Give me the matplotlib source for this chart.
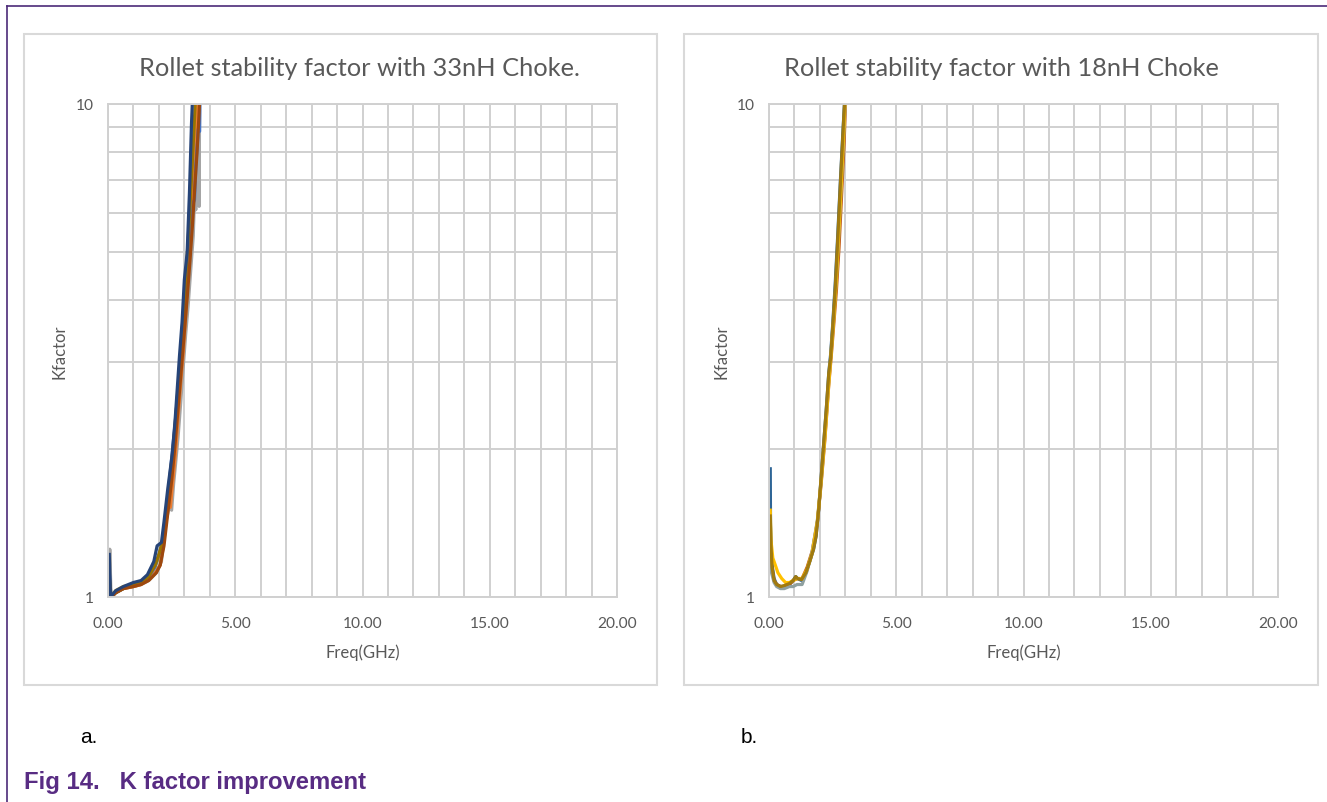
import matplotlib
matplotlib.use("Agg")
import matplotlib.pyplot as plt
from matplotlib.lines import Line2D
from matplotlib.patches import Rectangle
from matplotlib.ticker import FixedLocator, NullFormatter

# ---------------- data ----------------
titles = ["Rollet stability factor with 33nH Choke.", "Rollet stability factor with 18nH Choke"]
x_label = "Freq(GHz)"
y_label = "Kfactor"
x_ticks = [0, 5, 10, 15, 20]
x_tick_labels = ["0.00", "5.00", "10.00", "15.00", "20.00"]
y_ticks = [1, 10]
y_tick_labels = ["1", "10"]
panel_tags = ["a.", "b."]
caption = "Fig 14.   K factor improvement"

# panel a (33nH choke)
a_gray_f = [0.05, 0.07, 0.12, 0.30, 0.60, 1.00, 1.30, 1.60, 1.90, 2.10, 2.25, 2.40, 2.50, 2.58, 2.65, 2.75, 2.85, 2.95, 3.05, 3.15, 3.25, 3.35, 3.40, 3.45, 3.50, 3.53, 3.56, 3.58, 3.60]
a_gray_k = [1.00, 1.25, 1.00, 1.02, 1.04, 1.05, 1.06, 1.08, 1.12, 1.18, 1.40, 1.52, 1.50, 1.70, 1.85, 2.10, 2.45, 2.90, 3.40, 3.90, 4.60, 5.40, 6.50, 6.10, 8.50, 10.5, 9.00, 6.20, 10.5]
a_yellow_f = [0.05, 0.12, 0.30, 0.60, 1.00, 1.30, 1.60, 1.85, 2.00, 2.15, 2.30, 2.45, 2.60, 2.72, 2.85, 2.95, 3.05, 3.15, 3.25, 3.35, 3.45, 3.52]
a_yellow_k = [1.06, 1.00, 1.03, 1.05, 1.06, 1.07, 1.10, 1.15, 1.21, 1.28, 1.48, 1.75, 2.10, 2.45, 2.95, 3.45, 4.05, 4.80, 5.70, 6.90, 8.60, 10.8]
a_orange_f = [0.05, 0.12, 0.30, 0.60, 1.00, 1.30, 1.60, 1.90, 2.05, 2.20, 2.30, 2.38, 2.45, 2.55, 2.65, 2.75, 2.85, 2.95, 3.05, 3.12, 3.20, 3.30, 3.40, 3.47, 3.52]
a_orange_k = [1.08, 1.00, 1.02, 1.04, 1.05, 1.06, 1.09, 1.13, 1.16, 1.30, 1.45, 1.55, 1.52, 1.72, 1.95, 2.30, 2.70, 3.10, 3.70, 4.30, 5.10, 6.10, 7.60, 9.20, 10.8]
a_blue_f = [0.05, 0.12, 0.30, 0.60, 1.00, 1.30, 1.60, 1.85, 2.00, 2.15, 2.30, 2.45, 2.60, 2.72, 2.85, 2.95, 3.05, 3.15, 3.25, 3.35, 3.40, 3.45, 3.55, 3.60, 3.62]
a_blue_k = [1.12, 1.00, 1.02, 1.04, 1.06, 1.07, 1.10, 1.15, 1.22, 1.30, 1.50, 1.80, 2.15, 2.50, 3.00, 3.50, 4.10, 4.80, 5.50, 6.30, 6.40, 7.50, 8.90, 8.80, 11.0]
a_gold_f = [0.05, 0.12, 0.30, 0.60, 1.00, 1.30, 1.60, 1.85, 2.00, 2.15, 2.30, 2.42, 2.58, 2.70, 2.80, 2.90, 3.00, 3.10, 3.20, 3.30, 3.40, 3.48]
a_gold_k = [1.10, 1.00, 1.02, 1.04, 1.06, 1.07, 1.10, 1.16, 1.22, 1.30, 1.50, 1.72, 2.05, 2.45, 2.85, 3.40, 4.00, 4.80, 5.90, 7.40, 9.40, 11.5]
a_darkorange_f = [0.05, 0.12, 0.30, 0.60, 1.00, 1.30, 1.60, 1.90, 2.05, 2.20, 2.35, 2.50, 2.62, 2.75, 2.88, 3.00, 3.12, 3.22, 3.32, 3.42, 3.50, 3.58, 3.63]
a_darkorange_k = [1.05, 1.00, 1.02, 1.04, 1.05, 1.06, 1.08, 1.12, 1.16, 1.27, 1.48, 1.72, 2.00, 2.40, 2.90, 3.45, 4.10, 4.80, 5.70, 6.90, 8.00, 9.60, 11.0]
a_darkblue_f = [0.05, 0.10, 0.30, 0.60, 1.00, 1.30, 1.55, 1.80, 1.93, 2.10, 2.20, 2.35, 2.52, 2.63, 2.72, 2.81, 2.91, 3.00, 3.11, 3.20, 3.28, 3.36]
a_darkblue_k = [1.22, 1.00, 1.03, 1.05, 1.07, 1.08, 1.11, 1.18, 1.27, 1.29, 1.42, 1.66, 1.94, 2.26, 2.64, 3.09, 3.61, 4.40, 5.00, 6.60, 9.10, 11.5]

# panel b (18nH choke)
b_blue_f = [0.05, 0.06, 0.10, 0.20, 0.30, 0.45, 0.60, 0.80, 0.95, 1.05, 1.12, 1.28, 1.45, 1.60, 1.75, 1.85, 1.95, 2.05, 2.15, 2.25, 2.35, 2.42, 2.50, 2.60, 2.70, 2.80, 2.90, 3.00]
b_blue_k = [1.82, 1.40, 1.18, 1.09, 1.06, 1.05, 1.05, 1.06, 1.08, 1.10, 1.09, 1.08, 1.12, 1.18, 1.25, 1.33, 1.50, 1.75, 2.05, 2.40, 2.85, 3.10, 3.55, 4.30, 5.40, 6.90, 8.70, 10.8]
b_orange_f = [0.05, 0.10, 0.20, 0.30, 0.45, 0.60, 0.80, 0.95, 1.10, 1.30, 1.50, 1.70, 1.90, 2.05, 2.20, 2.35, 2.45, 2.55, 2.65, 2.75, 2.85, 2.95, 3.02]
b_orange_k = [1.35, 1.15, 1.08, 1.06, 1.05, 1.05, 1.06, 1.08, 1.09, 1.09, 1.15, 1.24, 1.42, 1.70, 2.10, 2.70, 3.10, 3.60, 4.20, 5.10, 6.50, 8.30, 10.5]
b_gray_f = [0.05, 0.10, 0.20, 0.30, 0.45, 0.60, 0.80, 0.95, 1.10, 1.30, 1.50, 1.70, 1.90, 2.05, 2.20, 2.35, 2.45, 2.55, 2.65, 2.75, 2.85, 2.95, 3.00]
b_gray_k = [1.30, 1.12, 1.07, 1.05, 1.04, 1.04, 1.05, 1.05, 1.06, 1.06, 1.13, 1.24, 1.43, 1.72, 2.15, 2.75, 3.20, 3.75, 4.45, 5.50, 7.00, 8.90, 10.2]
b_yellow_f = [0.05, 0.08, 0.15, 0.25, 0.35, 0.50, 0.65, 0.80, 0.95, 1.10, 1.30, 1.50, 1.70, 1.90, 2.05, 2.20, 2.35, 2.45, 2.55, 2.65, 2.75, 2.85, 2.95, 3.00]
b_yellow_k = [1.50, 1.30, 1.20, 1.16, 1.12, 1.09, 1.07, 1.07, 1.08, 1.09, 1.09, 1.14, 1.23, 1.42, 1.72, 2.12, 2.72, 3.15, 3.70, 4.45, 5.60, 7.10, 9.10, 10.5]
b_gold_f = [0.05, 0.07, 0.12, 0.20, 0.30, 0.45, 0.60, 0.80, 0.95, 1.05, 1.12, 1.28, 1.45, 1.60, 1.75, 1.85, 1.95, 2.05, 2.15, 2.25, 2.35, 2.42, 2.50, 2.60, 2.70, 2.80, 2.90, 3.00]
b_gold_k = [1.46, 1.30, 1.15, 1.08, 1.06, 1.05, 1.055, 1.065, 1.08, 1.10, 1.09, 1.085, 1.12, 1.18, 1.25, 1.33, 1.50, 1.75, 2.05, 2.40, 2.85, 3.05, 3.50, 4.20, 5.30, 6.80, 8.60, 10.8]

panel_a = [
    (a_gray_f, a_gray_k, "#a5a5a5"),
    (a_yellow_f, a_yellow_k, "#ffc000"),
    (a_orange_f, a_orange_k, "#ed7d31"),
    (a_blue_f, a_blue_k, "#4472c4"),
    (a_gold_f, a_gold_k, "#997300"),
    (a_darkorange_f, a_darkorange_k, "#9e480e"),
    (a_darkblue_f, a_darkblue_k, "#264478"),
]
panel_b = [
    (b_blue_f, b_blue_k, "#2e6596"),
    (b_orange_f, b_orange_k, "#c55a11"),
    (b_gray_f, b_gray_k, "#8fa0a0"),
    (b_yellow_f, b_yellow_k, "#ffc000"),
    (b_gold_f, b_gold_k, "#a07a10"),
]

# ---------------- figure ----------------
W, H = 1327, 803
fig = plt.figure(figsize=(W / 100, H / 100), dpi=100)
fig.patch.set_facecolor("white")

def fx(px):
    return px / W

def fy(py):
    return 1 - py / H

TXT = "#595959"
GRID = "#d0d0d0"
FONT = "Lato"

# page frame lines (purple)
frame = "#4b2a78"
fig.add_artist(Line2D([fx(7), fx(7)], [0, fy(7)], color=frame, lw=1.2, transform=fig.transFigure))
fig.add_artist(Line2D([fx(7), 1], [fy(7), fy(7)], color=frame, lw=1.2, transform=fig.transFigure))

# chart boxes
for (x0, y0, x1, y1) in [(24, 35, 657, 686), (684, 35, 1318, 686)]:
    fig.add_artist(Rectangle((fx(x0), fy(y1)), fx(x1 - x0), (y1 - y0) / H, fill=False,
                             edgecolor="#d9d9d9", lw=1.5, transform=fig.transFigure))

plot_boxes = [(108, 105, 617, 598), (769, 105, 1278, 598)]
title_cx = [359, 1001]
panels = [panel_a, panel_b]

for i, (x0, y0, x1, y1) in enumerate(plot_boxes):
    ax = fig.add_axes([fx(x0), fy(y1), fx(x1 - x0), (y1 - y0) / H])
    for f, k, c in panels[i]:
        ax.plot(f, k, color=c, lw=2.3, solid_joinstyle="round")
    ax.set_yscale("log")
    ax.set_xlim(0, 20)
    ax.set_ylim(1, 10)
    ax.xaxis.set_major_locator(FixedLocator(x_ticks))
    ax.set_xticklabels(x_tick_labels)
    ax.xaxis.set_minor_locator(FixedLocator(list(range(0, 21))))
    ax.yaxis.set_major_locator(FixedLocator(y_ticks))
    ax.set_yticklabels(y_tick_labels)
    ax.yaxis.set_minor_locator(FixedLocator([2, 3, 4, 5, 6, 7, 8, 9]))
    ax.yaxis.set_minor_formatter(NullFormatter())
    ax.grid(True, which="both", color=GRID, lw=1.4)
    ax.set_axisbelow(True)
    for s in ax.spines.values():
        s.set_color(GRID)
        s.set_linewidth(1.4)
    ax.tick_params(which="both", length=0, colors=TXT, labelsize=11.2)
    ax.tick_params(axis="x", pad=14)
    ax.tick_params(axis="y", pad=10)
    for lab in ax.get_xticklabels() + ax.get_yticklabels():
        lab.set_fontfamily(FONT)
        lab.set_color(TXT)

    cx = (x0 + x1) / 2
    fig.text(fx(title_cx[i]), fy(68), titles[i], ha="center", va="center",
             fontsize=18.3, color=TXT, family=FONT)
    fig.text(fx(cx), fy(653), x_label, ha="center", va="center",
             fontsize=12, color=TXT, family=FONT)
    fig.text(fx(x0 - 48), fy((y0 + y1) / 2), y_label, ha="center", va="center",
             rotation=90, fontsize=12, color=TXT, family=FONT)

fig.text(fx(80), fy(738), panel_tags[0], ha="left", va="center", fontsize=15,
         color="black", family="Liberation Sans")
fig.text(fx(741), fy(738), panel_tags[1], ha="left", va="center", fontsize=15,
         color="black", family="Liberation Sans")
fig.text(fx(24), fy(783), caption, ha="left", va="center", fontsize=17.2,
         color="#582c83", family="Liberation Sans", fontweight="bold")

fig.savefig("out.png", dpi=100)
